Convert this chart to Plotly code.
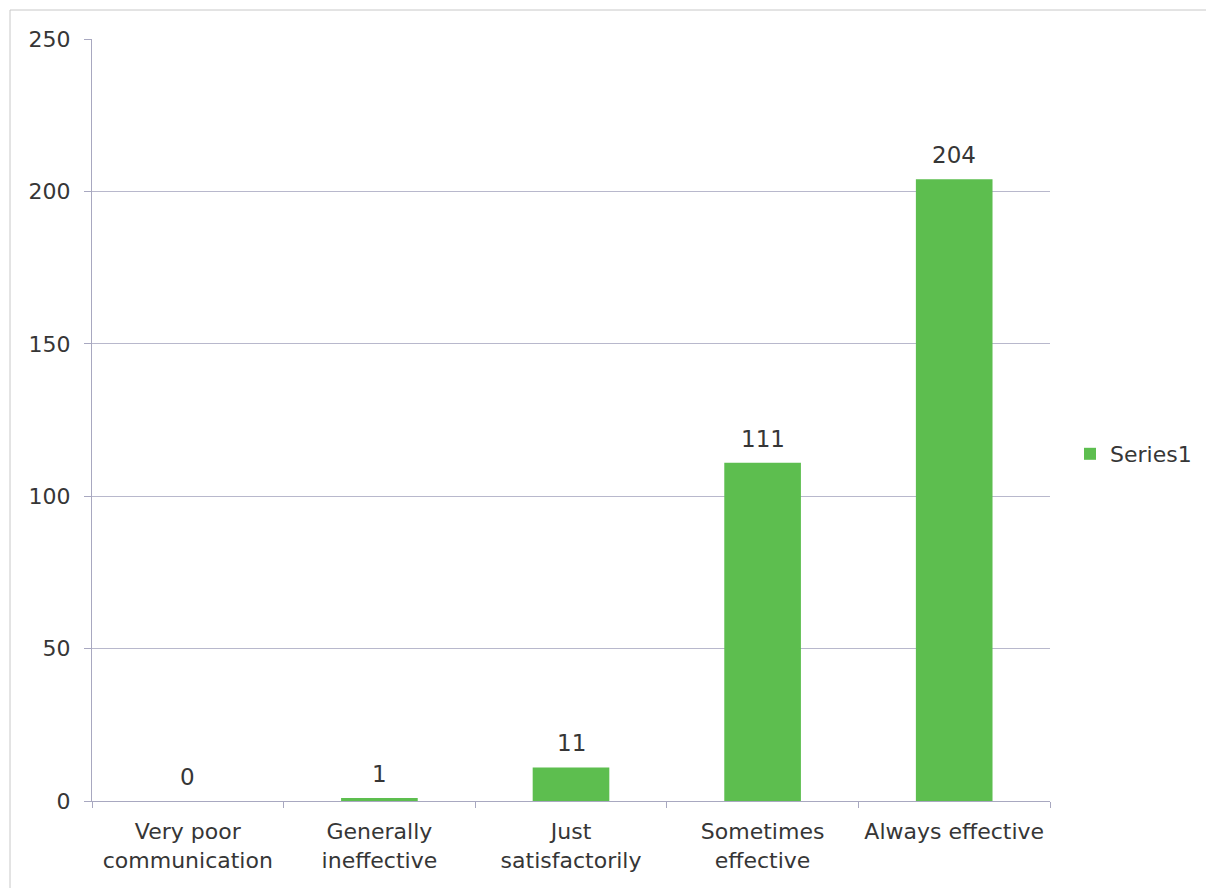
import plotly.graph_objects as go

categories = ["Very poor<br>communication", "Generally<br>ineffective", "Just<br>satisfactorily",
              "Sometimes<br>effective", "Always effective"]
values = [0, 1, 11, 111, 204]
series_name = "Series1"

# page has an 8px body margin, so work in figure coords = page coords - 8
OFF = 8
W, H = 1214 - OFF, 888 - OFF
L, R, T, B = 92 - OFF, 1050 - OFF, 39 - OFF, 801 - OFF

def px_x(p):
    return (p - OFF - L) / (R - L)

def px_y(p):
    return (B - (p - OFF)) / (B - T)

FONT = "DejaVu Sans, Verdana, Arial"
TXT = "#363636"
FS = 22

fig = go.Figure()
fig.add_trace(go.Bar(
    x=categories, y=values, name=series_name,
    marker=dict(color="#5DBE4F", line=dict(width=0)),
    cliponaxis=False, width=0.4,
))

for c, v in zip(categories, values):
    fig.add_annotation(x=c, y=v, xref="x", yref="y", text=str(v),
                       showarrow=False, yanchor="bottom", yshift=9,
                       font=dict(size=23, color=TXT, family=FONT))

fig.update_layout(
    width=W, height=H,
    margin=dict(l=L, r=W - R, t=T, b=H - B, autoexpand=False),
    paper_bgcolor="white", plot_bgcolor="white",
    font=dict(family=FONT, size=FS, color=TXT),
    showlegend=True,
    legend=dict(x=px_x(1070), y=px_y(454), xanchor="left", yanchor="middle",
                font=dict(size=FS, color=TXT)),
    xaxis=dict(showline=True, linecolor="#A8A8C0", linewidth=1,
               ticks="outside", tickson="boundaries", ticklen=6, tickcolor="#A8A8C0",
               showgrid=False, ticklabelstandoff=11,
               tickfont=dict(size=FS, color=TXT)),
    yaxis=dict(range=[0, 250], tickvals=[0, 50, 100, 150, 200, 250],
               showline=True, linecolor="#A8A8C0", linewidth=1,
               ticks="outside", ticklen=7, tickcolor="#A8A8C0",
               showgrid=True, gridcolor="#B8B8CC", gridwidth=1,
               ticklabelstandoff=9,
               zeroline=False, tickfont=dict(size=FS, color=TXT)),
    bargap=0.6,
)

fig.add_shape(type="rect", xref="paper", yref="paper",
              x0=px_x(10), x1=px_x(1240), y0=px_y(910), y1=px_y(10),
              line=dict(color="#C8C8C8", width=1), layer="below")

fig.write_html("out.html")
